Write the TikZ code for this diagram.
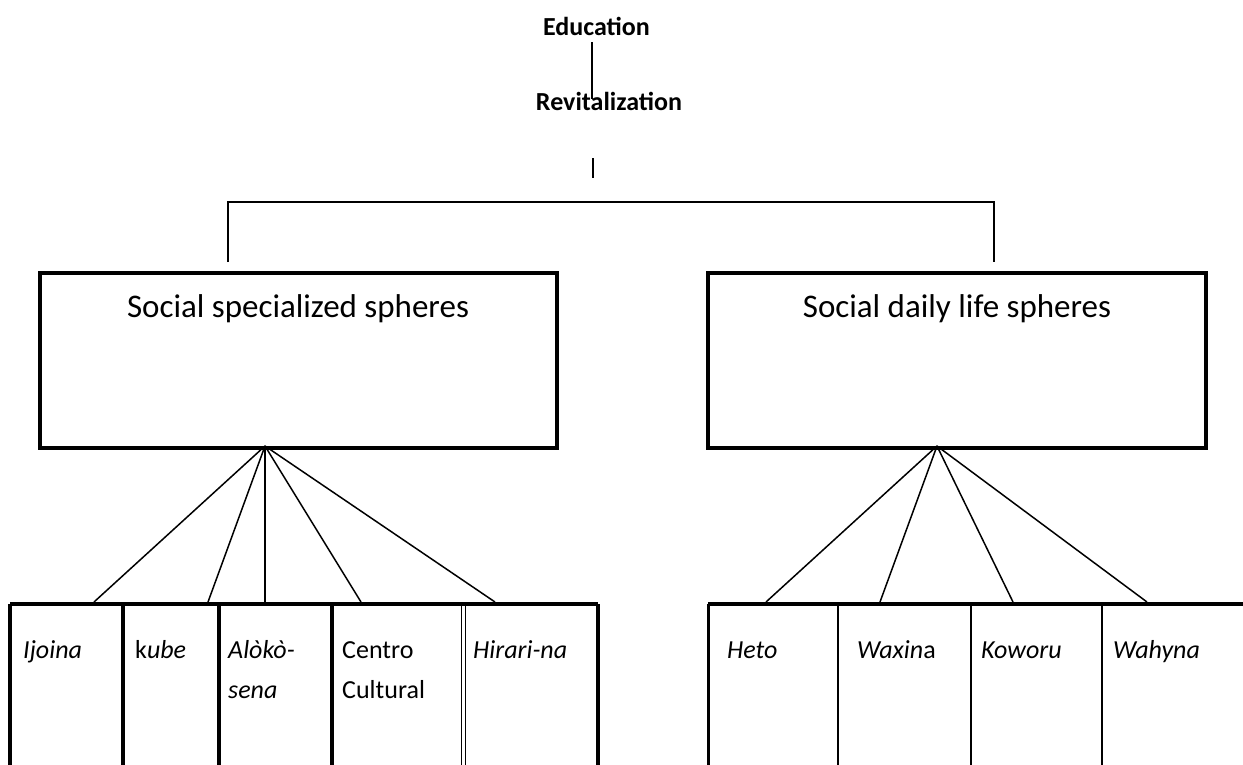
\documentclass[tikz,border=0pt]{standalone}
\usepackage{fontspec}
\setmainfont{Carlito}
\newcommand{\twolines}[2]{\begin{tabular}[t]{@{}l@{}}#1\\#2\end{tabular}}
\begin{document}
\begin{tikzpicture}[x=1pt,y=-1pt,
  txt/.style={inner sep=0pt,font=\fontsize{26}{40}\selectfont},
  head/.style={txt,font=\fontsize{26}{30}\selectfont\bfseries,anchor=base},
  title/.style={inner sep=0pt,font=\fontsize{33}{40}\selectfont,anchor=base},
  cell/.style={txt,anchor=base west},
  bigbox/.style={draw,line width=4pt},
  thin/.style={line width=1.5pt},
  thick/.style={line width=4pt}]
\useasboundingbox (0,0) rectangle (1243,764);
\clip (0,0) rectangle (1243,764);
% top labels
\node[head] (edu) at (596.5,35) {Education};
\node[head] (rev) at (609,110) {Revitalization};
\coordinate (eduB) at (592,42);
\coordinate (revT) at (592,99);
\draw[thin] (eduB) -- (revT);
\coordinate (stubT) at (593,158);
\coordinate (stubB) at (593,178);
\draw[thin] (stubT) -- (stubB);
% bracket
\coordinate (brL) at (228,202);
\coordinate (brR) at (994,202);
\coordinate (brLd) at (228,262);
\coordinate (brRd) at (994,262);
\draw[thin] (brLd) -- (brL) -- (brR) -- (brRd);
% big boxes
\draw[bigbox] (40,273) rectangle (557,448);
\draw[bigbox] (708,273) rectangle (1206,448);
\node[title] (spec) at (298,317) {Social specialized spheres};
\node[title] (daily) at (957,317) {Social daily life spheres};
\coordinate (apexL) at (265,446);
\coordinate (apexR) at (937,446);
% bottom left cells
\draw[thick] (10,604) -- (598,604);
\foreach \x in {10,123,219,332,598} \draw[thick] (\x,604) -- (\x,770);
\draw[line width=1.2pt] (461.5,604) -- (461.5,770);
\draw[line width=1.2pt] (465.5,604) -- (465.5,770);
% bottom right cells
\draw[thick] (708,604) -- (1250,604);
\draw[line width=3pt] (708,604) -- (708,770);
\foreach \x in {838,971,1102} \draw[line width=1.6pt] (\x,604) -- (\x,770);
% fan connectors
\foreach \x in {94,208,265,361,495} { \coordinate (fl\x) at (\x,602); \draw[thin] (apexL) -- (fl\x); }
\foreach \x in {766,880,1013,1147} { \coordinate (fr\x) at (\x,602); \draw[thin] (apexR) -- (fr\x); }
% cell texts
\node[cell] (c1) at (23,658) {\itshape Ijoina};
\node[cell] (c2) at (135,658) {k\textit{ube}};
\node[cell] (c3) at (228,658) {\itshape\twolines{\itshape Alòkò-}{\itshape sena}};
\node[cell] (c4) at (342,658) {\twolines{Centro}{Cultural}};
\node[cell] (c5) at (473,658) {\itshape Hirari-na};
\node[cell] (d1) at (727,658) {\itshape Heto};
\node[cell] (d2) at (857,658) {\textit{Waxin}a};
\node[cell] (d3) at (981,658) {\itshape Koworu};
\node[cell] (d4) at (1113,658) {\itshape Wahyna};
\end{tikzpicture}
\end{document}
